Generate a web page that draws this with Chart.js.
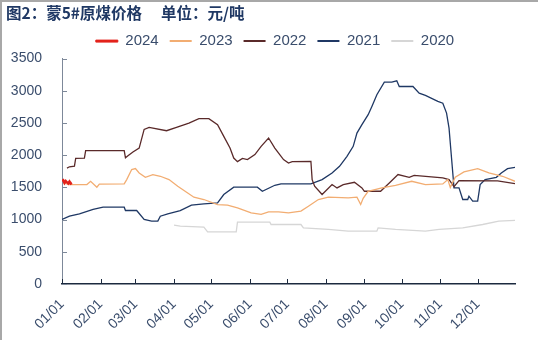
<!DOCTYPE html>
<html>
<head>
<meta charset="utf-8">
<script src="https://cdn.jsdelivr.net/npm/chart.js@4.4.1/dist/chart.umd.min.js"></script>
<style>
  html, body { margin: 0; padding: 0; background: #fff; }
  #box { width: 538px; height: 340px; box-sizing: border-box; border-top: 2px solid #a8a8a8; border-left: 2px solid #a8a8a8; }
  canvas { display: block; }
</style>
</head>
<body>
<div id="box"><canvas id="coal" width="536" height="338"></canvas></div>
<script>
// day of year (0 = 01/01) and price in 元/吨
const years = ['2024', '2023', '2022', '2021', '2020'];
const colors = ['#e3231c', '#f2ad72', '#5a2a2a', '#1f3864', '#d6d6d6'];

const days2024 = [0, 1, 2, 3, 4, 5, 6, 7, 8];
const vals2024 = [1600, 1610, 1570, 1600, 1580, 1560, 1590, 1560, 1570];

const days2023 = [1, 6, 20, 23, 28, 30, 50, 52, 56, 59, 62, 67, 73, 79, 86, 93, 101, 106, 114, 125, 133, 141, 152, 160, 166, 174, 182, 192, 198, 206, 214, 230, 237, 240, 242, 246, 257, 268, 281, 292, 306, 310, 312, 316, 323, 334, 343, 354, 364];
const vals2023 = [1569, 1544, 1544, 1595, 1502, 1550, 1554, 1621, 1777, 1792, 1724, 1657, 1699, 1673, 1621, 1518, 1414, 1348, 1312, 1234, 1224, 1182, 1105, 1080, 1120, 1120, 1105, 1131, 1208, 1312, 1348, 1337, 1348, 1234, 1330, 1440, 1492, 1533, 1595, 1544, 1554, 1621, 1500, 1657, 1740, 1792, 1724, 1673, 1595];

const days2022 = [4, 6, 10, 11, 18, 19, 50, 51, 53, 57, 62, 66, 70, 84, 92, 102, 110, 118, 125, 130, 135, 138, 141, 145, 149, 155, 160, 166, 171, 178, 182, 185, 200, 201, 203, 209, 217, 221, 226, 235, 241, 243, 256, 263, 270, 279, 283, 306, 311, 315, 319, 350, 364];
const vals2022 = [1800, 1820, 1830, 1950, 1956, 2070, 2070, 1960, 1990, 2050, 2111, 2400, 2432, 2380, 2432, 2499, 2567, 2567, 2474, 2293, 2111, 1956, 1900, 1950, 1931, 2009, 2138, 2267, 2111, 1931, 1879, 1900, 1905, 1621, 1518, 1389, 1544, 1492, 1544, 1580, 1492, 1440, 1440, 1569, 1699, 1657, 1688, 1647, 1621, 1510, 1606, 1600, 1560];

const days2021 = [0, 6, 14, 25, 33, 50, 51, 60, 66, 72, 77, 79, 85, 95, 104, 114, 125, 130, 138, 157, 161, 171, 176, 200, 209, 217, 223, 229, 234, 237, 241, 246, 249, 253, 259, 265, 269, 271, 282, 287, 292, 302, 306, 309, 311, 313, 315, 319, 322, 326, 327, 330, 334, 336, 340, 349, 353, 358, 364];
const vals2021 = [1002, 1053, 1089, 1157, 1193, 1193, 1141, 1141, 1002, 976, 976, 1053, 1089, 1141, 1224, 1244, 1260, 1389, 1503, 1503, 1440, 1533, 1554, 1554, 1621, 1724, 1828, 1983, 2138, 2344, 2474, 2629, 2757, 2938, 3134, 3134, 3155, 3067, 3067, 2963, 2928, 2835, 2808, 2654, 2421, 1956, 1492, 1492, 1312, 1312, 1363, 1286, 1286, 1544, 1621, 1657, 1724, 1792, 1812];

const days2020 = [90, 95, 114, 117, 140, 141, 167, 168, 192, 194, 214, 230, 253, 254, 268, 292, 303, 322, 338, 351, 364];
const vals2020 = [914, 898, 883, 810, 810, 960, 960, 924, 924, 872, 847, 821, 821, 872, 847, 821, 847, 872, 924, 976, 987];

const monthStarts = [0, 31, 59, 90, 120, 151, 181, 212, 243, 273, 304, 334];
const monthLabels = ['01/01', '02/01', '03/01', '04/01', '05/01', '06/01', '07/01', '08/01', '09/01', '10/01', '11/01', '12/01'];
const yTicks = [0, 500, 1000, 1500, 2000, 2500, 3000, 3500];

const series = [
  [days2024, vals2024],
  [days2023, vals2023],
  [days2022, vals2022],
  [days2021, vals2021],
  [days2020, vals2020]
];

const textColor = '#3a4d6c';
const font = 'Liberation Sans, Arial, sans-serif';

// small tick marks pointing into the plot
const innerTicks = {
  id: 'innerTicks',
  afterDraw(chart) {
    const { ctx, scales: { x, y } } = chart;
    ctx.save();
    ctx.lineWidth = 1;
    ctx.beginPath();
    ctx.strokeStyle = '#7d8899';
    y.ticks.forEach(t => {
      const py = Math.round(y.getPixelForValue(t.value)) + 0.5;
      ctx.moveTo(x.left, py);
      ctx.lineTo(x.left + 5, py);
    });
    ctx.stroke();
    ctx.beginPath();
    ctx.strokeStyle = '#1c2a3f';
    x.ticks.forEach(t => {
      const px = Math.round(x.getPixelForValue(t.value)) + 0.5;
      ctx.moveTo(px, y.bottom);
      ctx.lineTo(px, y.bottom - 5);
    });
    ctx.stroke();
    ctx.restore();
  }
};

// title hugs the left edge, legend sits a bit right of centre
const nudgeBlocks = {
  id: 'nudgeBlocks',
  afterLayout(chart) {
    chart.titleBlock.left -= 5;
    chart.titleBlock.right -= 5;
    chart.legend.left += 12;
    chart.legend.right += 12;
  }
};

new Chart(document.getElementById('coal'), {
  type: 'line',
  data: {
    datasets: series.map((s, i) => ({
      label: years[i],
      data: s[0].map((d, j) => ({ x: d, y: s[1][j] })),
      borderColor: colors[i],
      backgroundColor: colors[i],
      borderWidth: i === 0 ? 2.5 : 1.3,
      pointRadius: 0,
      tension: 0
    }))
  },
  options: {
    responsive: false,
    animation: false,
    layout: { padding: { left: 9, right: 23, top: 0, bottom: 0 } },
    plugins: {
      title: {
        display: true,
        text: '图2：蒙5#原煤价格　 单位：元/吨',
        align: 'start',
        color: '#1f3864',
        font: { family: 'Noto Sans CJK SC', size: 15.5, weight: 'bold' },
        padding: { top: 2, bottom: 0 }
      },
      legend: {
        labels: {
          boxWidth: 22,
          boxHeight: 2,
          padding: 11,
          color: textColor,
          font: { family: font, size: 15 },
          // plain line swatches, no outline
          generateLabels: chart => Chart.defaults.plugins.legend.labels.generateLabels(chart)
            .map((item, i) => ({ ...item, lineWidth: i === 0 ? 1 : 0 }))
        }
      },
      tooltip: { enabled: false }
    },
    scales: {
      x: {
        type: 'linear',
        min: 0,
        max: 364,
        afterBuildTicks: axis => { axis.ticks = monthStarts.map(v => ({ value: v })); },
        // keep the rotated labels from pushing the plot inward
        afterFit: axis => {
          axis.paddingLeft = 0;
          axis.paddingRight = 0;
          axis.height = 56;
        },
        ticks: {
          callback: v => monthLabels[monthStarts.indexOf(v)],
          minRotation: 45,
          maxRotation: 45,
          padding: 12,
          color: textColor,
          font: { family: font, size: 14 }
        },
        grid: { display: true, drawOnChartArea: false, drawTicks: false },
        border: { color: '#1c2a3f', width: 1.5 }
      },
      y: {
        min: 0,
        max: 3500,
        afterBuildTicks: axis => { axis.ticks = yTicks.map(v => ({ value: v })); },
        afterFit: axis => { axis.width = 51; },
        ticks: {
          callback: v => String(v),
          padding: 20,
          color: textColor,
          font: { family: font, size: 14 }
        },
        grid: { display: true, drawOnChartArea: false, drawTicks: false },
        border: { color: '#7d8899', width: 1 }
      }
    }
  },
  plugins: [innerTicks, nudgeBlocks]
});
</script>
</body>
</html>
